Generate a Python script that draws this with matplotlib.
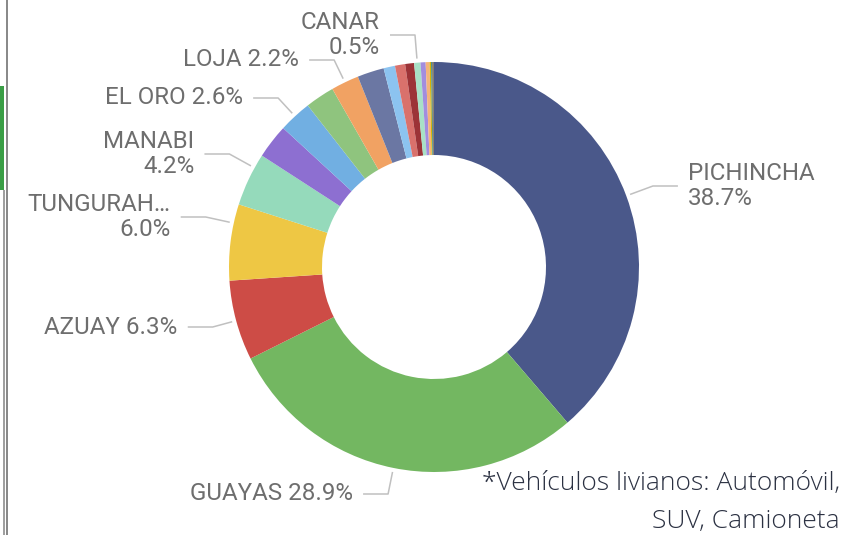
import matplotlib.pyplot as plt
import numpy as np
from matplotlib.patches import Rectangle

# share of light vehicles by province (%), clockwise from 12 o'clock
provinces = ["PICHINCHA", "GUAYAS", "AZUAY", "TUNGURAHUA", "MANABI",
             "IMBABURA", "EL ORO", "CHIMBORAZO", "LOJA", "SANTO DOMINGO",
             "COTOPAXI", "LOS RIOS", "ESMERALDAS", "CANAR", "SANTA ELENA",
             "NAPO", "SUCUMBIOS", "PASTAZA", "BOLIVAR", "CARCHI"]
shares = [38.7, 28.9, 6.3, 6.0, 4.2,
          2.7, 2.6, 2.3, 2.2, 2.1,
          0.9, 0.8, 0.7, 0.5, 0.4,
          0.3, 0.12, 0.1, 0.08, 0.05]
colors = ["#4A588A", "#73B761", "#CD4C46", "#EEC744", "#95DABB",
          "#8D6FD1", "#71AFE2", "#8FC47E", "#F1A263", "#6B77A3",
          "#8CC3F0", "#D9716C", "#9C3337", "#A8E1C6", "#A28DDE",
          "#F5B37A", "#D9B300", "#3F8C8F", "#7A5C3A", "#555555"]

# labelled slices: name -> (label y in px from top, two-line label?)
label_layout = {
    "PICHINCHA": (186, True),
    "GUAYAS": (494, False),
    "AZUAY": (327, False),
    "TUNGURAHUA": (217, True),
    "MANABI": (154, True),
    "EL ORO": (98, False),
    "LOJA": (60, False),
    "CANAR": (35, True),
}

W, H = 851, 535
cx, cy = 434, H - 267
R, R_in = 205, 112

fig = plt.figure(figsize=(W / 100, H / 100), dpi=100)
ax = fig.add_axes([0, 0, 1, 1])

wedges, _ = ax.pie(shares, colors=colors, startangle=90, counterclock=False,
                   radius=R, center=(cx, cy),
                   wedgeprops=dict(width=R - R_in, edgecolor="none"))
ax.set_xlim(0, W)
ax.set_ylim(0, H)
ax.set_aspect("equal")
ax.axis("off")

total = sum(shares)
label_color = "#6E6E6E"
line_color = "#C0C0C0"

for name, w in zip(provinces, wedges):
    if name not in label_layout:
        continue
    y_img, stacked = label_layout[name]
    pct = shares[provinces.index(name)] / total * 100
    mid = np.deg2rad((w.theta1 + w.theta2) / 2)
    ux, uy = np.cos(mid), np.sin(mid)
    yl = H - y_img
    dy = yl - cy
    side = 1 if ux > 0 else -1
    r_rad = dy / uy if abs(uy) > 1e-6 else np.inf
    if 1.0 * R <= r_rad <= 1.2 * R:
        ex, ey = cx + r_rad * ux, yl
        px, py = cx + 1.02 * R * ux, cy + 1.02 * R * uy
    else:
        re = 1.14 * R
        ex, ey = cx + side * np.sqrt(max(re ** 2 - dy ** 2, 0)), yl
        d = np.hypot(ex - cx, ey - cy)
        px, py = cx + 1.02 * R * (ex - cx) / d, cy + 1.02 * R * (ey - cy) / d
    hx = ex + side * 25
    ax.plot([px, ex, hx], [py, ey, ey], color=line_color, lw=1.1,
            solid_capstyle="butt")

    shown = name if len(name) <= 9 else name[:8] + "…"
    sep = "\n" if stacked else " "
    txt = f"{shown}{sep}{pct:.1f}%"
    ax.text(hx + side * 10, ey, txt, ha="left" if side > 0 else "right",
            va="center", ma="left" if side > 0 else "right",
            fontsize=17.4, family="Roboto", color=label_color,
            linespacing=1.15)

# footnote
note_color = "#2B3142"
ax.text(840, H - 490, "*Vehículos livianos: Automóvil,", ha="right",
        va="baseline", fontsize=19, family="Open Sans", fontweight="light",
        color=note_color)
ax.text(840, H - 528, "SUV, Camioneta", ha="right",
        va="baseline", fontsize=19, family="Open Sans", fontweight="light",
        color=note_color)

# bits of the neighbouring report page on the left edge
fig.add_artist(Rectangle((0, 1 - 190 / H), 4 / W, 104 / H,
                         transform=fig.transFigure, color="#3A9E46", lw=0))
fig.add_artist(Rectangle((6 / W, 0), 2 / W, 1, transform=fig.transFigure,
                         color="#8A8A8A", lw=0))
fig.add_artist(Rectangle((3 / W, 0), 1.5 / W, 1 - 190 / H,
                         transform=fig.transFigure, color="#A0A0A0", lw=0))

fig.savefig("out.png", dpi=100)
